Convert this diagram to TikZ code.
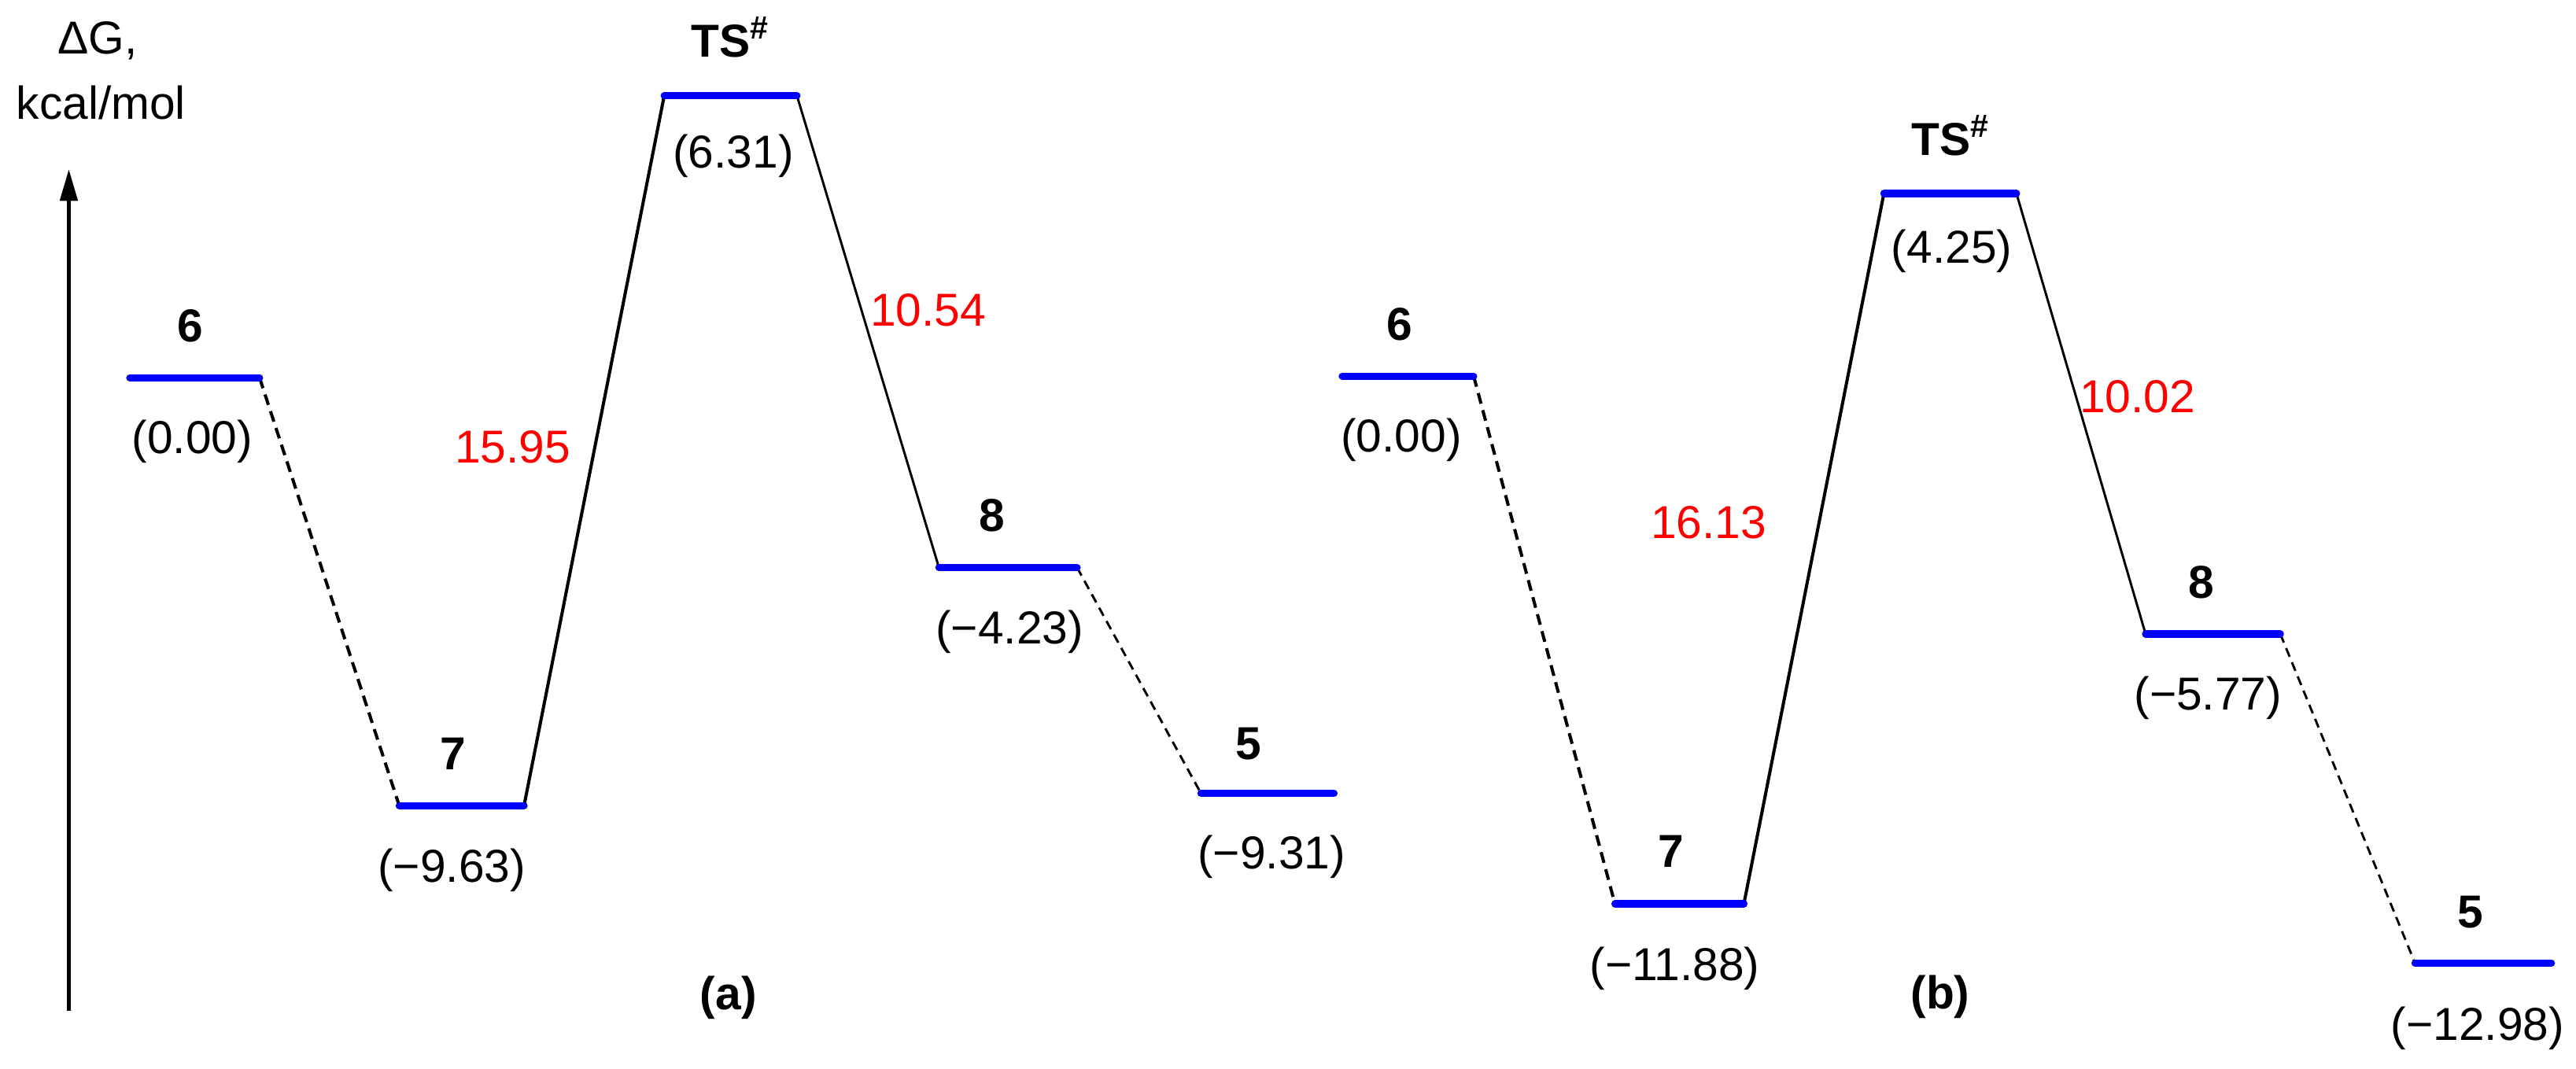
\documentclass[tikz,border=0pt]{standalone}
\usepackage{fontspec}
\setmainfont{Liberation Sans}
\usetikzlibrary{arrows.meta}
\definecolor{barblue}{RGB}{0,0,255}
\definecolor{gapred}{RGB}{255,0,0}
\tikzset{
  lvl/.style={draw=barblue, line width=2.5pt, line cap=round},
  thickline/.style={draw=black, line width=1.1pt},
  thinline/.style={draw=black, line width=0.8pt},
  thickdash/.style={draw=black, line width=1.1pt, dash pattern=on 3.8pt off 2.3pt},
  thindash/.style={draw=black, line width=0.8pt, dash pattern=on 3.2pt off 2.1pt},
  txt/.style={inner sep=0pt, anchor=base, font=\fontsize{16}{19}\selectfont},
  boldlbl/.style={txt, font=\fontsize{16}{19}\selectfont\bfseries},
  gaplbl/.style={txt, text=gapred},
}
\begin{document}
\begin{tikzpicture}[x=0.02cm, y=-0.02cm]
\useasboundingbox (0,0) rectangle (1568,650.4);

% axis
\coordinate (axb) at (41.9,615.4);
\coordinate (axt) at (41.9,103);
\draw[line width=1.35pt, -{Triangle[length=11pt,width=6pt]}] (axb) -- (axt);
\node[txt] (dg) at (59.4,32.6) {ΔG,};
\node[txt] (unit) at (61.5,72.8) {kcal/mol};

% ---------- panel (a) ----------
\coordinate (a6L) at (79,230);    \coordinate (a6R) at (158,230);
\coordinate (a7L) at (243,490.5); \coordinate (a7R) at (319,490.5);
\coordinate (aTL) at (404.3,58.3);\coordinate (aTR) at (485.1,58.3);
\coordinate (a8L) at (571.5,345.5);\coordinate (a8R) at (655.6,345.5);
\coordinate (a5L) at (731,483);   \coordinate (a5R) at (812,483);

\draw[thickdash] (a6R) -- (a7L);
\draw[thickline] (a7R) -- (aTL);
\draw[thinline] (aTR) -- (a8L);
\draw[thindash] (a8R) -- (a5L);

\draw[lvl] (a6L) -- (a6R);
\draw[lvl] (a7L) -- (a7R);
\draw[lvl] (aTL) -- (aTR);
\draw[lvl] (a8L) -- (a8R);
\draw[lvl] (a5L) -- (a5R);

\node[boldlbl] (na6) at (116,208) {6};
\node[txt]  (va6) at (117,276) {(0.00)};
\node[boldlbl] (na7) at (276,468.5) {7};
\node[txt]  (va7) at (275,537) {(−9.63)};
\node[boldlbl] (naT) at (444.7,34.8) {TS\textsuperscript{\#}};
\node[txt]  (vaT) at (446.4,102.2) {(6.31)};
\node[boldlbl] (na8) at (604,323.5) {8};
\node[txt]  (va8) at (614.5,392) {(−4.23)};
\node[boldlbl] (na5) at (760,462.5) {5};
\node[txt]  (va5) at (774,529) {(−9.31)};

\node[gaplbl] (ga1) at (312,282) {15.95};
\node[gaplbl] (ga2) at (565,198.5) {10.54};
\node[boldlbl] (pa) at (443.4,614.5) {(a)};

% ---------- panel (b) ----------
\coordinate (b6L) at (817,229);   \coordinate (b6R) at (897,229);
\coordinate (b7L) at (983,550.3); \coordinate (b7R) at (1061.5,550.3);
\coordinate (bTL) at (1146.7,117.8);\coordinate (bTR) at (1227.4,117.8);
\coordinate (b8L) at (1306,386);  \coordinate (b8R) at (1388,386);
\coordinate (b5L) at (1470,586.4);\coordinate (b5R) at (1553,586.4);

\draw[thickdash] (b6R) -- (b7L);
\draw[thickline] (b7R) -- (bTL);
\draw[thinline] (bTR) -- (b8L);
\draw[thindash] (b8R) -- (b5L);

\draw[lvl] (b6L) -- (b6R);
\draw[lvl] (b7L) -- (b7R);
\draw[lvl] (bTL) -- (bTR);
\draw[lvl] (b8L) -- (b8R);
\draw[lvl] (b5L) -- (b5R);

\node[boldlbl] (nb6) at (852,207) {6};
\node[txt]  (vb6) at (853,275) {(0.00)};
\node[boldlbl] (nb7) at (1017,528) {7};
\node[txt]  (vb7) at (1019.4,597) {(−11.88)};
\node[boldlbl] (nbT) at (1187.5,94.8) {TS\textsuperscript{\#}};
\node[txt]  (vbT) at (1188,160.4) {(4.25)};
\node[boldlbl] (nb8) at (1340,364) {8};
\node[txt]  (vb8) at (1344,432) {(−5.77)};
\node[boldlbl] (nb5) at (1503.7,564.8) {5};
\node[txt]  (vb5) at (1508,633.5) {(−12.98)};

\node[gaplbl] (gb1) at (1040,328) {16.13};
\node[gaplbl] (gb2) at (1301,251) {10.02};
\node[boldlbl] (pb) at (1181,614) {(b)};
\end{tikzpicture}
\end{document}
